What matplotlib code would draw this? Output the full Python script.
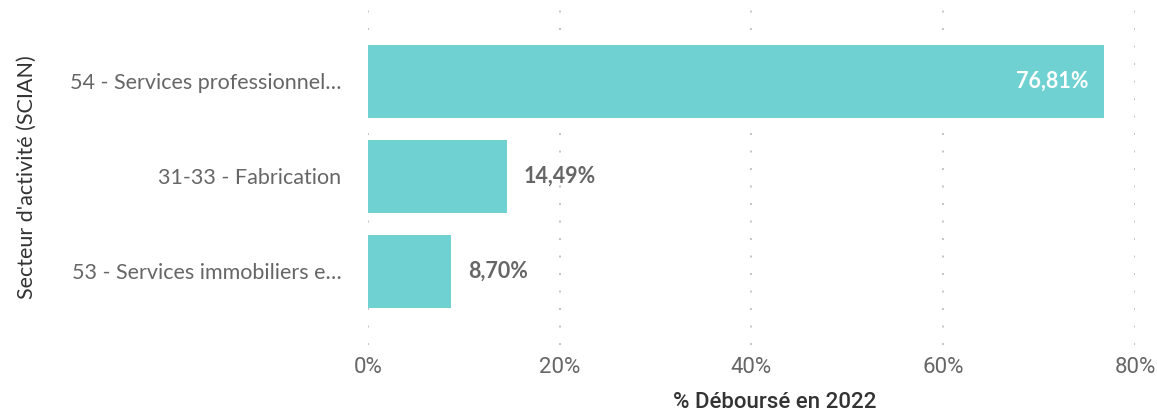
import matplotlib.pyplot as plt
from matplotlib.ticker import FuncFormatter

# Share of 2022 disbursements by NAICS sector
sectors = [
    "54 - Services professionnel…",
    "31-33 - Fabrication",
    "53 - Services immobiliers e…",
]
pct_2022 = [76.81, 14.49, 8.70]
xticks = [0, 20, 40, 60, 80]

bar_color = "#6FD1D1"
grey = "#666666"
narrow = ["Liberation Sans Narrow", "Roboto", "DejaVu Sans"]

plt.rcParams["font.family"] = ["Lato", "DejaVu Sans"]

fig = plt.figure(figsize=(11.57, 4.16), dpi=100)
ax = fig.add_axes([0.318, 0.171, 0.663, 0.805])

ypos = range(len(sectors))
bars = ax.barh(ypos, pct_2022, height=0.77, color=bar_color, zorder=2)

ax.set_xlim(0, 80)
ax.set_ylim(2.774, -0.753)
ax.set_xticks(xticks)
ax.xaxis.set_major_formatter(FuncFormatter(lambda v, _: f"{v:.0f}%"))
ax.set_yticks(list(ypos))
ax.set_yticklabels(sectors, fontsize=15.5)
for lbl in ax.get_xticklabels():
    lbl.set_family(narrow)
    lbl.set_fontsize(16)

ax.tick_params(axis="both", length=0, colors=grey)
ax.tick_params(axis="y", pad=19)
ax.tick_params(axis="x", pad=9)
for spine in ax.spines.values():
    spine.set_visible(False)
ax.grid(axis="x", color="#C4C4C4", linestyle=(0, (1, 8)), linewidth=1.4, zorder=0)

ax.set_ylabel("Secteur d'activité (SCIAN)", fontsize=15.5, color="#333333", labelpad=24)
ax.set_xlabel("% Déboursé en 2022", fontsize=16, color="#333333", family=narrow,
              fontweight="medium")
ax.xaxis.set_label_coords(0.53, -0.14)

# value labels: inside for long bars, outside otherwise
for bar, val in zip(bars, pct_2022):
    txt = f"{val:.2f}%".replace(".", ",")
    y = bar.get_y() + bar.get_height() / 2
    if val > 40:
        ax.text(val - 1.7, y, txt, ha="right", va="center", color="white",
                fontsize=15.5, fontweight="bold")
    else:
        ax.text(val + 1.7, y, txt, ha="left", va="center", color=grey,
                fontsize=15.5, fontweight="bold")

fig.savefig("out.png", dpi=100)
